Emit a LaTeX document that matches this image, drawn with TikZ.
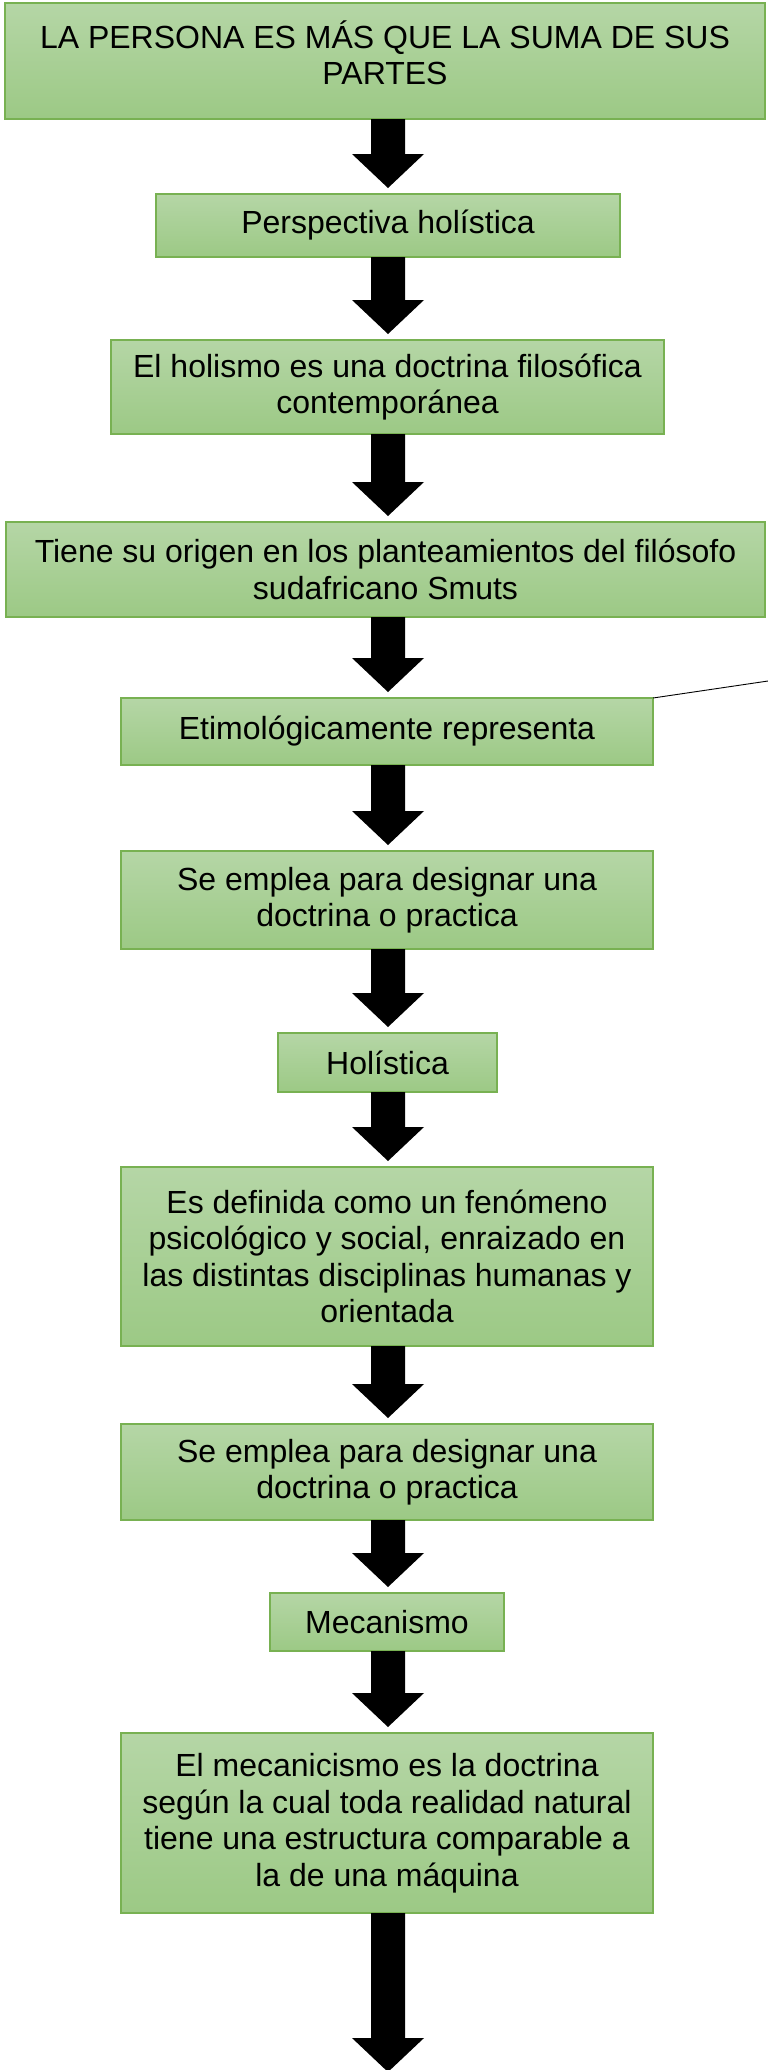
\documentclass[tikz,border=0pt]{standalone}
\usepackage{fontspec}
\setmainfont{Liberation Sans}
\usetikzlibrary{calc}
\definecolor{gtop}{HTML}{B5D6A6}
\definecolor{gbot}{HTML}{9CC985}
\definecolor{boxborder}{HTML}{78B152}
\tikzset{
  box/.style={draw=boxborder, line width=1.3pt, top color=gtop, bottom color=gbot,
    align=center, font=\fontsize{32}{36.5}\selectfont, inner sep=0pt, outer sep=0pt,
    text=black, anchor=north west},
  arrowfill/.style={fill=black},
  thinline/.style={draw=black, line width=0.9pt}
}
\newcommand{\blockarr}[2]{%
  \fill[arrowfill] let \p1=(#1.south), \p2=(#2) in
    (371pt,\y1) -- (405pt,\y1) -- (405pt,\y2+40pt) -- (424pt,\y2+40pt) --
    (388pt,\y2+6pt) -- (352pt,\y2+40pt) -- (371pt,\y2+40pt) -- cycle;}
\begin{document}
\begin{tikzpicture}[x=1pt,y=-1pt]
\useasboundingbox (0,0) rectangle (768,2070);
\node[box, minimum width=760pt, minimum height=116pt,
  label={[font=\fontsize{32}{36.5}\selectfont, align=center, yshift=8pt]center:LA PERSONA ES MÁS QUE LA SUMA DE SUS\\PARTES}] (b1) at (5,3) {};
\node[box, minimum width=464pt, minimum height=63pt] (b2) at (156,194) {Perspectiva holística};
\node[box, minimum width=553pt, minimum height=94pt] (b3) at (111,340) {El holismo es una doctrina filosófica\\contemporánea};
\node[box, minimum width=759pt, minimum height=95pt] (b4) at (6,522) {Tiene su origen en los planteamientos del filósofo\\sudafricano Smuts};
\node[box, minimum width=532pt, minimum height=67pt] (b5) at (121,698) {Etimológicamente representa};
\node[box, minimum width=532pt, minimum height=98pt] (b6) at (121,851) {Se emplea para designar una\\doctrina o practica};
\node[box, minimum width=219pt, minimum height=59pt] (b7) at (278,1033) {Holística};
\node[box, minimum width=532pt, minimum height=179pt] (b8) at (121,1167) {Es definida como un fenómeno\\psicológico y social, enraizado en\\las distintas disciplinas humanas y\\orientada};
\node[box, minimum width=532pt, minimum height=96pt] (b9) at (121,1424) {Se emplea para designar una\\doctrina o practica};
\node[box, minimum width=234pt, minimum height=58pt] (b10) at (270,1593) {Mecanismo};
\node[box, minimum width=532pt, minimum height=180pt] (b11) at (121,1733) {El mecanicismo es la doctrina\\según la cual toda realidad natural\\tiene una estructura comparable a\\la de una máquina};
\coordinate (endpt) at (388,2078);
\coordinate (lend) at (768,681);
\blockarr{b1}{b2.north}
\blockarr{b2}{b3.north}
\blockarr{b3}{b4.north}
\blockarr{b4}{b5.north}
\blockarr{b5}{b6.north}
\blockarr{b6}{b7.north}
\blockarr{b7}{b8.north}
\blockarr{b8}{b9.north}
\blockarr{b9}{b10.north}
\blockarr{b10}{b11.north}
\blockarr{b11}{endpt}
\draw[thinline] (b5.north east) -- (lend);
\end{tikzpicture}
\end{document}
